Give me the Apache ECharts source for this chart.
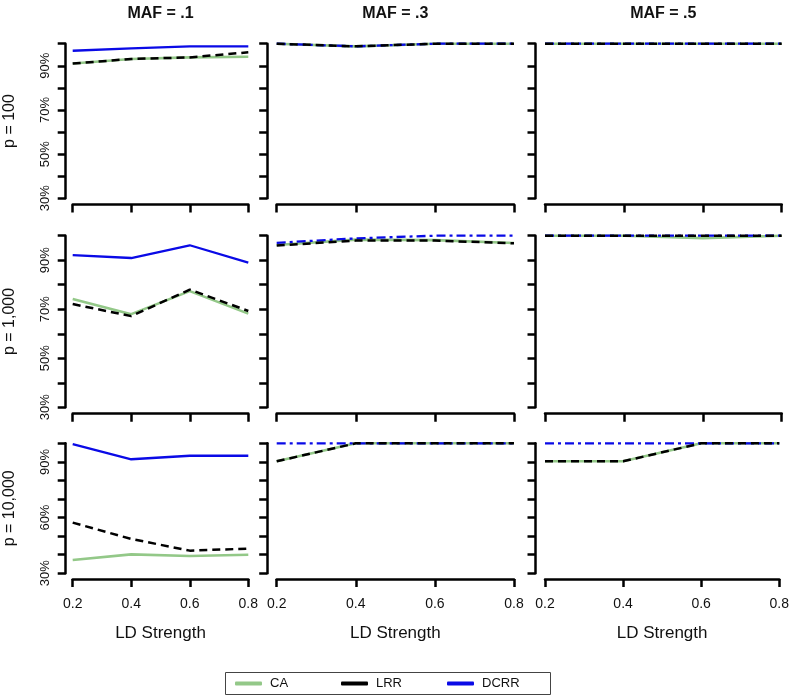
<!DOCTYPE html>
<html>
<head>
<meta charset="utf-8">
<script src="https://cdn.jsdelivr.net/npm/echarts@6/dist/echarts.min.js"></script>
<style>
html,body{margin:0;padding:0;background:#fff;}
#chart{width:792px;height:697px;}
</style>
</head>
<body>
<div id="chart"></div>
<script>
// ---------- data ----------
const ldStrength = [0.2, 0.4, 0.6, 0.8];
const methods = ['CA', 'LRR', 'DCRR'];
const mafLabels = ['MAF = .1', 'MAF = .3', 'MAF = .5'];
const pLabels = ['p = 100', 'p = 1,000', 'p = 10,000'];
const yTickLabelsRow1 = [30, 50, 70, 90];
const yTickLabelsRow2 = [30, 50, 70, 90];
const yTickLabelsRow3 = [30, 60, 90];
const xTickLabels = ['0.2', '0.4', '0.6', '0.8'];

// p = 100
const p100_maf1_CA   = [91.0, 93.1, 93.8, 94.1];
const p100_maf1_LRR  = [91.0, 93.1, 93.8, 96.1];
const p100_maf1_DCRR = [96.8, 97.9, 98.8, 98.8];
const p100_maf3_CA   = [100, 98.8, 100, 100];
const p100_maf3_LRR  = [100, 98.8, 100, 100];
const p100_maf3_DCRR = [100, 98.8, 100, 100];
const p100_maf5_CA   = [100, 100, 100, 100];
const p100_maf5_LRR  = [100, 100, 100, 100];
const p100_maf5_DCRR = [100, 100, 100, 100];
// p = 1,000
const p1000_maf1_CA   = [74.2, 68.0, 77.4, 68.2];
const p1000_maf1_LRR  = [72.1, 67.2, 78.0, 69.3];
const p1000_maf1_DCRR = [92.1, 90.9, 96.1, 89.0];
const p1000_maf3_CA   = [96.2, 98.4, 98.2, 97.0];
const p1000_maf3_LRR  = [96.0, 98.0, 98.0, 96.9];
const p1000_maf3_DCRR = [97.1, 98.9, 100, 100];
const p1000_maf5_CA   = [100, 100, 99.0, 100];
const p1000_maf5_LRR  = [100, 100, 100, 100];
const p1000_maf5_DCRR = [100, 100, 100, 100];
// p = 10,000
const p10000_maf1_CA   = [37.2, 40.2, 39.3, 40.0];
const p10000_maf1_LRR  = [57.3, 48.5, 42.2, 43.3];
const p10000_maf1_DCRR = [99.5, 91.4, 93.3, 93.3];
const p10000_maf3_CA   = [90.3, 100, 100, 100];
const p10000_maf3_LRR  = [90.3, 100, 100, 100];
const p10000_maf3_DCRR = [100, 100, 100, 100];
const p10000_maf5_CA   = [90.3, 90.3, 100, 100];
const p10000_maf5_LRR  = [90.3, 90.3, 100, 100];
const p10000_maf5_DCRR = [100, 100, 100, 100];

const panelData = [
  [[p100_maf1_CA, p100_maf1_LRR, p100_maf1_DCRR],
   [p100_maf3_CA, p100_maf3_LRR, p100_maf3_DCRR],
   [p100_maf5_CA, p100_maf5_LRR, p100_maf5_DCRR]],
  [[p1000_maf1_CA, p1000_maf1_LRR, p1000_maf1_DCRR],
   [p1000_maf3_CA, p1000_maf3_LRR, p1000_maf3_DCRR],
   [p1000_maf5_CA, p1000_maf5_LRR, p1000_maf5_DCRR]],
  [[p10000_maf1_CA, p10000_maf1_LRR, p10000_maf1_DCRR],
   [p10000_maf3_CA, p10000_maf3_LRR, p10000_maf3_DCRR],
   [p10000_maf5_CA, p10000_maf5_LRR, p10000_maf5_DCRR]]
];
const yLabelSets = [yTickLabelsRow1, yTickLabelsRow2, yTickLabelsRow3];

// ---------- layout / style ----------
const FONT = 'Liberation Sans, Arial, Helvetica, sans-serif';
const colX = [[72.7, 248.3], [276.7, 514.0], [545.0, 781.7]]; // pixel x of 0.2 and 0.8
const rowY = [[43.7, 198.3], [235.7, 407.3], [443.3, 573.3]]; // pixel y of 100% and 30%
const colOffset = [7, 9.5, 9.5];
const rowOffset = [6.2, 6.4, 5.6];
const colors = { CA: '#93c888', LRR: '#000000', DCRR: '#0a0ae6' };
const legendLeft = [235, 341, 447];

const grid = [], xAxis = [], yAxis = [], series = [], title = [];
let gi = 0;
for (let r = 0; r < 3; r++) {
  for (let c = 0; c < 3; c++) {
    grid.push({
      left: colX[c][0], width: colX[c][1] - colX[c][0],
      top: rowY[r][0], height: rowY[r][1] - rowY[r][0],
      containLabel: false
    });
    xAxis.push({
      type: 'value', gridIndex: gi, min: 0.2, max: 0.8, interval: 0.2,
      offset: rowOffset[r],
      axisLine: { show: true, onZero: false, lineStyle: { color: '#000', width: 2.5 } },
      axisTick: { show: true, length: 8, lineStyle: { color: '#000', width: 2.5 } },
      axisLabel: {
        show: r === 2, margin: 18, fontSize: 14, color: '#111', fontFamily: FONT,
        formatter: v => xTickLabels[Math.round((v - 0.2) / 0.2)] || ''
      },
      splitLine: { show: false },
      name: r === 2 ? 'LD Strength' : '',
      nameLocation: 'middle', nameGap: 46,
      nameTextStyle: { fontSize: 17, color: '#111', fontFamily: FONT }
    });
    const labs = yLabelSets[r];
    yAxis.push({
      type: 'value', gridIndex: gi, min: 30, max: 100, interval: 10,
      offset: colOffset[c],
      axisLine: { show: true, onZero: false, lineStyle: { color: '#000', width: 2.5 } },
      axisTick: { show: true, length: 8, lineStyle: { color: '#000', width: 2.5 } },
      axisLabel: {
        show: c === 0, rotate: 90, margin: 14, fontSize: 13, color: '#111', fontFamily: FONT,
        formatter: v => labs.indexOf(Math.round(v)) >= 0 ? Math.round(v) + '%' : ''
      },
      splitLine: { show: false },
      name: c === 0 ? pLabels[r] : '',
      nameLocation: 'middle', nameGap: 48,
      nameTextStyle: { fontSize: 16, color: '#111', fontFamily: FONT }
    });
    const d = panelData[r][c];
    const order = [0, 2, 1]; // CA, DCRR, LRR (LRR on top)
    order.forEach(k => {
      const name = methods[k];
      let ls = { color: colors[name], width: 2.3, type: 'solid' };
      if (name === 'CA') ls.width = 2.6;
      if (name === 'LRR') { ls.type = [8, 5]; ls.width = 2.5; }
      if (name === 'DCRR' && c > 0) { ls.type = [9, 4, 3, 4]; }
      series.push({
        name: name, type: 'line', xAxisIndex: gi, yAxisIndex: gi,
        data: ldStrength.map((x, i) => [x, d[k][i]]),
        showSymbol: false, symbol: 'none', clip: false,
        lineStyle: ls, itemStyle: { color: colors[name] },
        emphasis: { disabled: true }, animation: false
      });
    });
    gi++;
  }
}
for (let c = 0; c < 3; c++) {
  title.push({
    text: mafLabels[c], left: (colX[c][0] + colX[c][1]) / 2, top: 6, textAlign: 'center', padding: 0,
    textStyle: { fontSize: 16, fontWeight: 'bold', color: '#111', fontFamily: FONT }
  });
}

const legend = methods.map((m, i) => ({
  data: [m], left: legendLeft[i], top: 677, orient: 'horizontal',
  icon: 'roundRect', itemWidth: 27, itemHeight: 4, padding: 0,
  selectedMode: false,
  textStyle: { fontSize: 13, color: '#111', fontFamily: FONT, padding: [0, 0, 0, 3] }
}));

const chart = echarts.init(document.getElementById('chart'), null, { renderer: 'canvas' });
chart.setOption({
  animation: false,
  backgroundColor: '#fff',
  title: title,
  grid: grid, xAxis: xAxis, yAxis: yAxis, series: series,
  legend: legend,
  graphic: [{
    type: 'rect',
    shape: { x: 225.5, y: 672.5, width: 325, height: 22 },
    style: { fill: 'none', stroke: '#444', lineWidth: 1 },
    silent: true
  }]
});
</script>
</body>
</html>
